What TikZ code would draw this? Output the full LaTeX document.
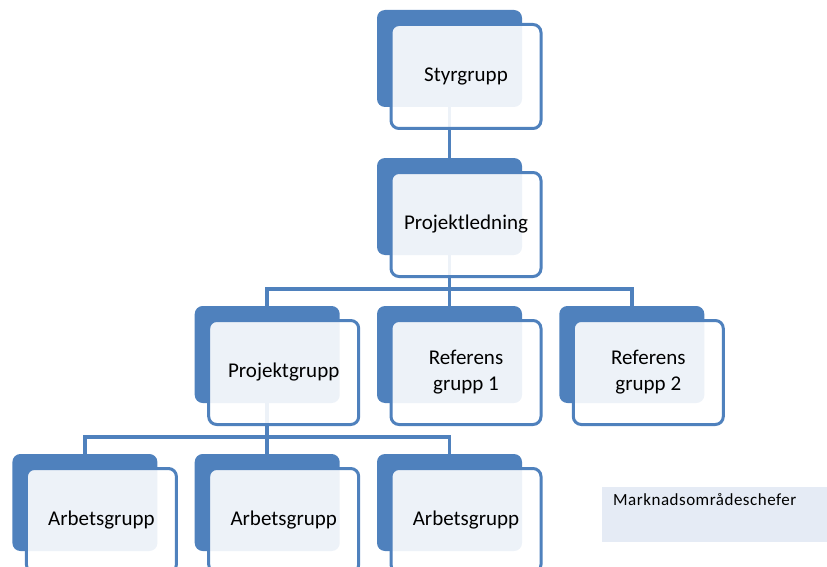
\documentclass[tikz,border=0pt]{standalone}
\usepackage{fontspec}
\setmainfont{Carlito}
\newfontfamily\notefont[LetterSpace=3]{Carlito}
\usetikzlibrary{positioning}
\definecolor{boxblue}{HTML}{4F81BD}
\definecolor{notefill}{HTML}{E5EBF5}

\begin{document}
\begin{tikzpicture}[x=1pt,y=-1pt,node distance=148pt and 182.3pt,on grid]
    \tikzstyle{back}=[shape=rectangle,rounded corners=8pt,fill=boxblue,minimum width=145pt,minimum height=97pt]
    \tikzstyle{front}=[shape=rectangle,rounded corners=8pt,draw=boxblue,line width=3pt,fill=white,fill opacity=0.9,text opacity=1,minimum width=150pt,minimum height=104pt,align=center,font=\fontsize{21}{26}\selectfont]
    \tikzstyle{conn}=[draw=boxblue,line width=3.5pt]
    \tikzstyle{note}=[shape=rectangle,fill=notefill,anchor=north west,inner xsep=11pt,inner ysep=2pt,text width=203pt,text height=16pt,text depth=35pt,font=\notefont\fontsize{17}{20}\selectfont]

    \useasboundingbox (0,0) rectangle (827,567);

    \node[back] (S) at (449.5,58.5) {};
    \node[back, below=of S] (PL) {};
    \node[back, below=of PL] (RG1) {};
    \node[back, left=of RG1] (PG) {};
    \node[back, right=of RG1] (RG2) {};
    \node[back, below=of PG] (A2) {};
    \node[back, left=of A2] (A1) {};
    \node[back, right=of A2] (A3) {};

    \draw[conn] (S.south) -- (PL.north);
    \draw[conn] (PL.south) -- ++(0,34) coordinate (bus1);
    \draw[conn] (PG.north) |- (bus1) -| (RG2.north);
    \draw[conn] (bus1) -- (RG1.north);
    \draw[conn] (PG.south) -- ++(0,34) coordinate (bus2);
    \draw[conn] (A1.north) |- (bus2) -| (A3.north);
    \draw[conn] (bus2) -- (A2.north);

    \node[front] (Sf) at ([shift={(16.5,18)}]S.center) {Styrgrupp};
    \node[front] (PLf) at ([shift={(16.5,18)}]PL.center) {Projektledning};
    \node[front] (PGf) at ([shift={(16.5,18)}]PG.center) {Projektgrupp};
    \node[front] (RG1f) at ([shift={(16.5,18)}]RG1.center) {Referens\\grupp 1};
    \node[front] (RG2f) at ([shift={(16.5,18)}]RG2.center) {Referens\\grupp 2};
    \node[front] (A1f) at ([shift={(16.5,18)}]A1.center) {Arbetsgrupp};
    \node[front] (A2f) at ([shift={(16.5,18)}]A2.center) {Arbetsgrupp};
    \node[front] (A3f) at ([shift={(16.5,18)}]A3.center) {Arbetsgrupp};

    \node[note] (M) at (602,487) {Marknadsområdeschefer};
\end{tikzpicture}
\end{document}
